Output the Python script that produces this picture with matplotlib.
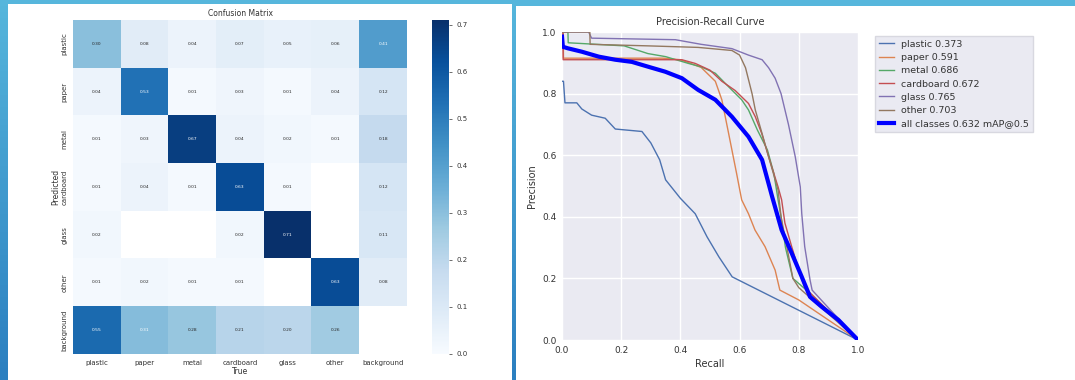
import numpy as np
import matplotlib
matplotlib.use("Agg")
import matplotlib.pyplot as plt
from matplotlib.colors import LinearSegmentedColormap

nan = np.nan

# confusion matrix (rows = predicted, columns = true)
classes = ["plastic", "paper", "metal", "cardboard", "glass", "other", "background"]
cm_plastic = [0.30, 0.08, 0.04, 0.07, 0.05, 0.06, 0.41]
cm_paper = [0.04, 0.53, 0.01, 0.03, 0.01, 0.04, 0.12]
cm_metal = [0.01, 0.03, 0.67, 0.04, 0.02, 0.01, 0.18]
cm_cardboard = [0.01, 0.04, 0.01, 0.63, 0.01, nan, 0.12]
cm_glass = [0.02, nan, nan, 0.02, 0.71, nan, 0.11]
cm_other = [0.01, 0.02, 0.01, 0.01, nan, 0.63, 0.08]
cm_background = [0.55, 0.31, 0.28, 0.21, 0.20, 0.26, nan]
cbar_ticks = [0.0, 0.1, 0.2, 0.3, 0.4, 0.5, 0.6, 0.7]

# precision-recall curves
plastic_r = [0.0, 0.005, 0.01, 0.05, 0.067, 0.10, 0.146, 0.18, 0.27, 0.30, 0.33, 0.35, 0.40, 0.45, 0.49, 0.53, 0.575, 1.0]
plastic_p = [0.84, 0.84, 0.77, 0.77, 0.75, 0.73, 0.72, 0.685, 0.677, 0.64, 0.585, 0.52, 0.46, 0.41, 0.335, 0.27, 0.205, 0.0]
paper_r = [0.0, 0.004, 0.005, 0.34, 0.40, 0.47, 0.518, 0.54, 0.562, 0.59, 0.607, 0.63, 0.652, 0.686, 0.72, 0.736, 0.80, 1.0]
paper_p = [1.0, 1.0, 0.915, 0.915, 0.91, 0.885, 0.84, 0.78, 0.675, 0.54, 0.455, 0.41, 0.357, 0.303, 0.227, 0.162, 0.13, 0.0]
metal_r = [0.0, 0.02, 0.021, 0.21, 0.29, 0.35, 0.427, 0.47, 0.518, 0.562, 0.607, 0.63, 0.66, 0.694, 0.716, 0.73, 0.74, 0.755, 0.78, 0.84, 1.0]
metal_p = [1.0, 1.0, 0.965, 0.955, 0.93, 0.92, 0.898, 0.887, 0.866, 0.823, 0.78, 0.747, 0.682, 0.617, 0.54, 0.455, 0.4, 0.3, 0.2, 0.15, 0.0]
cardboard_r = [0.0, 0.003, 0.004, 0.338, 0.405, 0.45, 0.5, 0.54, 0.585, 0.63, 0.653, 0.675, 0.698, 0.73, 0.742, 0.753, 0.776, 0.793, 0.82, 1.0]
cardboard_p = [1.0, 1.0, 0.91, 0.91, 0.91, 0.898, 0.876, 0.84, 0.81, 0.768, 0.725, 0.67, 0.595, 0.497, 0.455, 0.38, 0.303, 0.249, 0.17, 0.0]
glass_r = [0.0, 0.09, 0.10, 0.383, 0.47, 0.574, 0.63, 0.676, 0.698, 0.72, 0.74, 0.765, 0.788, 0.805, 0.81, 0.82, 0.838, 0.845, 1.0]
glass_p = [1.0, 1.0, 0.98, 0.975, 0.96, 0.946, 0.925, 0.91, 0.884, 0.85, 0.8, 0.7, 0.595, 0.497, 0.41, 0.303, 0.195, 0.162, 0.0]
other_r = [0.0, 0.094, 0.095, 0.29, 0.46, 0.574, 0.6, 0.62, 0.642, 0.653, 0.676, 0.698, 0.73, 0.74, 0.76, 0.78, 0.80, 1.0]
other_p = [1.0, 1.0, 0.96, 0.955, 0.95, 0.94, 0.925, 0.884, 0.8, 0.747, 0.67, 0.595, 0.487, 0.4, 0.3, 0.2, 0.17, 0.0]
all_r = [0.0, 0.003, 0.02, 0.067, 0.124, 0.18, 0.236, 0.292, 0.349, 0.405, 0.46, 0.518, 0.574, 0.63, 0.676, 0.71, 0.742, 0.776, 0.81, 0.838, 0.877, 0.934, 1.0]
all_p = [0.985, 0.952, 0.947, 0.936, 0.92, 0.91, 0.903, 0.887, 0.871, 0.85, 0.812, 0.78, 0.725, 0.66, 0.585, 0.465, 0.357, 0.282, 0.205, 0.14, 0.108, 0.065, 0.0]

pr_labels = ["plastic 0.373", "paper 0.591", "metal 0.686", "cardboard 0.672", "glass 0.765", "other 0.703"]
pr_colors = ["#4c72b0", "#dd8452", "#55a868", "#c44e52", "#8172b3", "#937860"]

W, H = 1075, 380
fig = plt.figure(figsize=(W / 100, H / 100), dpi=100)

# blue backdrop with a slight vertical gradient
bg = fig.add_axes([0, 0, 1, 1])
bg_cmap = LinearSegmentedColormap.from_list("bg", ["#2b7fc0", "#56b6dc"])
bg.imshow(np.linspace(0, 1, 64).reshape(-1, 1), cmap=bg_cmap, aspect="auto",
          origin="lower", extent=[0, 1, 0, 1])
bg.axis("off")

def px_axes(x0, y0, x1, y1, **kw):
    return fig.add_axes([x0 / W, 1 - y1 / H, (x1 - x0) / W, (y1 - y0) / H], **kw)

left_panel = px_axes(8, 4, 512, 380, facecolor="white")
left_panel.set_xticks([]); left_panel.set_yticks([])
for s in left_panel.spines.values():
    s.set_visible(False)
right_panel = px_axes(516, 6, 1075, 380, facecolor="white")
right_panel.set_xticks([]); right_panel.set_yticks([])
for s in right_panel.spines.values():
    s.set_visible(False)

# ---- confusion matrix ----
cm = np.array([cm_plastic, cm_paper, cm_metal, cm_cardboard, cm_glass, cm_other, cm_background])
ax1 = px_axes(73, 20, 407, 354)
im = ax1.imshow(cm, cmap="Blues", vmin=0, vmax=0.71, aspect="auto", interpolation="nearest")
ax1.set_facecolor("white")
for i in range(len(classes)):
    for j in range(len(classes)):
        v = cm[i, j]
        if np.isnan(v):
            continue
        ax1.text(j, i, f"{v:.2f}", ha="center", va="center", fontsize=3.2,
                 color="white" if v > 0.3 else "#262626")
ax1.set_xticks(range(len(classes)))
ax1.set_xticklabels(classes, fontsize=5, color="#333333")
ax1.set_yticks(range(len(classes)))
ax1.set_yticklabels(classes, fontsize=5, color="#333333", rotation=90, va="center")
ax1.tick_params(length=0, pad=4)
for s in ax1.spines.values():
    s.set_visible(False)
ax1.set_title("Confusion Matrix", fontsize=5.5, color="#333333", pad=3)
ax1.set_xlabel("True", fontsize=5.5, color="#333333", labelpad=1)
ax1.set_ylabel("Predicted", fontsize=5.5, color="#333333", labelpad=1)

cax = px_axes(432, 20, 449, 354)
cb = fig.colorbar(im, cax=cax, ticks=cbar_ticks)
cb.outline.set_visible(False)
cb.ax.tick_params(labelsize=5, length=2, width=0.5, colors="#333333")

# ---- precision-recall curve ----
ax2 = px_axes(562, 32, 858, 340, facecolor="#eaeaf2")
ax2.grid(True, color="white", linewidth=1)
ax2.set_axisbelow(True)
for s in ax2.spines.values():
    s.set_visible(False)
series = [(plastic_r, plastic_p), (paper_r, paper_p), (metal_r, metal_p),
          (cardboard_r, cardboard_p), (glass_r, glass_p), (other_r, other_p)]
for (r, p), lab, c in zip(series, pr_labels, pr_colors):
    ax2.plot(r, p, color=c, linewidth=1, label=lab)
ax2.plot(all_r, all_p, color="blue", linewidth=3, label="all classes 0.632 mAP@0.5")
ax2.set_xlim(0, 1)
ax2.set_ylim(0, 1)
ax2.set_xticks([0.0, 0.2, 0.4, 0.6, 0.8, 1.0])
ax2.set_yticks([0.0, 0.2, 0.4, 0.6, 0.8, 1.0])
ax2.tick_params(labelsize=6.5, length=0, pad=4, colors="#333333")
ax2.set_title("Precision-Recall Curve", fontsize=7, color="#333333", pad=5)
ax2.set_xlabel("Recall", fontsize=7, color="#333333", labelpad=3)
ax2.set_ylabel("Precision", fontsize=7, color="#333333", labelpad=4)
leg = ax2.legend(loc="upper left", bbox_to_anchor=(1.057, 0.987), borderaxespad=0,
                 fontsize=6.8, handlelength=1.6, labelspacing=0.45,
                 facecolor="#eaeaf2", edgecolor="#d8d8e0", framealpha=1, fancybox=False)
for t in leg.get_texts():
    t.set_color("#333333")

fig.savefig("out.png", dpi=100)
